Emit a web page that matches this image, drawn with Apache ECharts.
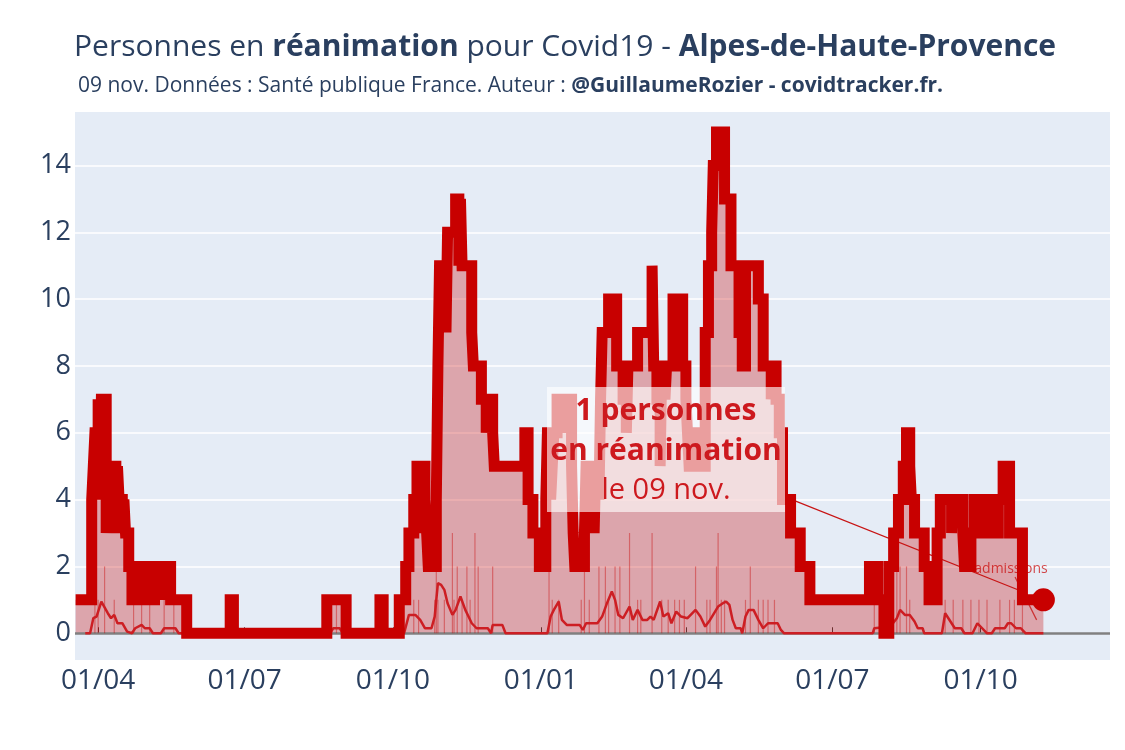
<!DOCTYPE html>
<html>
<head>
<meta charset="utf-8">
<script src="https://cdn.jsdelivr.net/npm/echarts@6/dist/echarts.min.js"></script>
<style>
html,body{margin:0;padding:0;background:#fff;}
#chart{width:1125px;height:750px;}
</style>
</head>
<body>
<div id="chart"></div>
<script>
// ICU patients (value holds from the date until the next date)
const icuDates = [
'2020-03-18','2020-03-28','2020-03-29','2020-03-30','2020-04-01','2020-04-02','2020-04-03','2020-04-06','2020-04-07','2020-04-09',
'2020-04-10','2020-04-12','2020-04-13','2020-04-14','2020-04-16','2020-04-17','2020-04-18','2020-04-20','2020-04-22','2020-04-24',
'2020-04-26','2020-04-27','2020-04-30','2020-05-02','2020-05-04','2020-05-06','2020-05-09','2020-05-10','2020-05-13','2020-05-14',
'2020-05-16','2020-05-26','2020-06-22','2020-06-24','2020-08-21','2020-09-02','2020-09-23','2020-09-25',
'2020-10-05','2020-10-09','2020-10-11','2020-10-14','2020-10-16','2020-10-18','2020-10-19','2020-10-21','2020-10-22','2020-10-23',
'2020-10-28','2020-10-29','2020-10-30','2020-11-03','2020-11-04','2020-11-09','2020-11-11','2020-11-12','2020-11-13','2020-11-19',
'2020-11-20','2020-11-25','2020-11-28','2020-11-29','2020-12-02','2020-12-03','2020-12-22','2020-12-24','2020-12-27','2020-12-31',
'2021-01-04','2021-01-05','2021-01-07','2021-01-08','2021-01-09','2021-01-11','2021-01-13','2021-01-14','2021-01-17','2021-01-18',
'2021-01-20','2021-01-21','2021-01-22','2021-01-28','2021-01-29','2021-01-31','2021-02-01','2021-02-03','2021-02-04','2021-02-06',
'2021-02-07','2021-02-08','2021-02-12','2021-02-17','2021-02-21','2021-02-23','2021-02-24','2021-03-02','2021-03-11','2021-03-12',
'2021-03-14','2021-03-16','2021-03-17','2021-03-19','2021-03-20','2021-03-24','2021-03-30','2021-04-01','2021-04-02','2021-04-03',
'2021-04-05','2021-04-07','2021-04-09','2021-04-11','2021-04-13','2021-04-15','2021-04-17','2021-04-18','2021-04-20','2021-04-25',
'2021-04-29','2021-05-04','2021-05-06','2021-05-08','2021-05-16','2021-05-19','2021-05-24','2021-05-25','2021-05-27','2021-05-29',
'2021-05-31','2021-06-05','2021-06-11','2021-06-17','2021-07-24','2021-07-29','2021-08-02','2021-08-05','2021-08-08','2021-08-11',
'2021-08-14','2021-08-16','2021-08-18','2021-08-19','2021-08-21','2021-08-27','2021-08-30','2021-09-04','2021-09-06','2021-09-13',
'2021-09-14','2021-09-20','2021-09-21','2021-09-25','2021-09-27','2021-10-02','2021-10-04','2021-10-06','2021-10-08','2021-10-10',
'2021-10-12','2021-10-15','2021-10-19','2021-10-27','2021-11-09'
];
const icuValues = [
1,4,5,6,7,4,7,3,5,3,
5,3,5,4,3,4,3,2,1,2,
1,2,1,2,1,2,1,2,1,2,
1,0,1,0,1,0,1,0,
1,2,3,4,5,3,5,4,3,2,
4,8,11,9,12,13,11,13,11,9,
8,7,6,7,6,5,6,4,3,2,
4,6,4,5,6,7,6,7,6,7,
5,3,2,3,5,3,4,3,5,4,
7,9,10,8,7,6,8,9,11,8,
7,5,8,7,8,10,8,7,6,5,
6,5,6,5,9,11,12,14,15,13,
11,9,8,11,10,8,7,8,7,6,
4,3,2,1,2,1,0,2,3,4,
5,6,5,4,3,2,1,3,4,3,
4,3,2,3,4,3,4,3,4,3,
4,5,3,1,1
];

// Daily ICU admissions (thin bars)
const admDailyDates = [
'2020-03-30','2020-04-01','2020-04-05','2020-04-11','2020-04-23','2020-04-28','2020-05-03','2020-05-12','2020-05-18','2020-08-27',
'2020-10-14','2020-10-17','2020-10-27','2020-10-28','2020-10-29','2020-11-02','2020-11-07','2020-11-08','2020-11-10','2020-11-13',
'2020-11-16','2020-11-18','2020-11-21','2020-11-23','2020-12-02','2021-01-06','2021-01-08','2021-01-12','2021-01-26','2021-01-28',
'2021-01-31','2021-02-06','2021-02-10','2021-02-12','2021-02-16','2021-02-19','2021-02-25','2021-03-02','2021-03-04','2021-03-11',
'2021-03-17','2021-03-21','2021-03-25','2021-03-28','2021-03-31','2021-04-07','2021-04-14','2021-04-16','2021-04-20','2021-04-21',
'2021-04-23','2021-04-25','2021-05-08','2021-05-11','2021-05-16','2021-05-19','2021-05-22','2021-05-26','2021-07-27','2021-07-31',
'2021-08-10','2021-08-12','2021-08-16','2021-08-18','2021-09-09','2021-09-14','2021-09-20','2021-09-25','2021-09-30','2021-10-05',
'2021-10-13','2021-10-19','2021-10-22','2021-10-27'
];
const admDailyValues = [
1,1,2,1,1,1,1,1,1,1,
1,1,1,2,1,1,3,1,2,1,
2,1,3,2,2,2,1,1,1,2,
1,2,2,1,2,2,3,1,1,3,
1,1,1,1,1,2,1,1,2,3,
1,1,1,2,1,1,1,1,1,1,
2,2,2,1,1,1,1,1,1,1,
1,1,1,1
];

// Smoothed ICU admissions (thin line)
const admAvgDates = [
'2020-03-24','2020-03-27','2020-03-29','2020-03-31','2020-04-03','2020-04-04','2020-04-07','2020-04-09','2020-04-11','2020-04-13',
'2020-04-16','2020-04-19','2020-04-22','2020-04-24','2020-04-28','2020-04-30','2020-05-03','2020-05-05','2020-05-10','2020-05-12',
'2020-05-19','2020-05-21','2020-08-23','2020-08-25','2020-08-29','2020-08-31','2020-10-08','2020-10-11','2020-10-15','2020-10-18',
'2020-10-21','2020-10-25','2020-10-27','2020-10-29','2020-10-31','2020-11-02','2020-11-04','2020-11-07','2020-11-09','2020-11-12',
'2020-11-15','2020-11-17','2020-11-19','2020-11-22','2020-11-29','2020-12-01','2020-12-02','2020-12-08','2020-12-10','2021-01-05',
'2021-01-07','2021-01-09','2021-01-12','2021-01-14','2021-01-17','2021-01-25','2021-01-27','2021-01-29','2021-02-05','2021-02-08',
'2021-02-11','2021-02-14','2021-02-16','2021-02-18','2021-02-21','2021-02-25','2021-02-27','2021-03-02','2021-03-05','2021-03-08',
'2021-03-10','2021-03-12','2021-03-16','2021-03-18','2021-03-21','2021-03-23','2021-03-26','2021-03-29','2021-04-02','2021-04-07',
'2021-04-10','2021-04-13','2021-04-16','2021-04-21','2021-04-24','2021-04-26','2021-04-28','2021-04-30','2021-05-02','2021-05-05',
'2021-05-06','2021-05-08','2021-05-10','2021-05-13','2021-05-16','2021-05-19','2021-05-22','2021-05-28','2021-05-30','2021-06-01',
'2021-07-26','2021-07-27','2021-08-06','2021-08-10','2021-08-12','2021-08-15','2021-08-18','2021-08-21','2021-08-23','2021-08-26',
'2021-08-27','2021-09-07','2021-09-09','2021-09-11','2021-09-13','2021-09-15','2021-09-19','2021-09-21','2021-09-26','2021-09-29',
'2021-10-02','2021-10-05','2021-10-08','2021-10-10','2021-10-16','2021-10-18','2021-10-20','2021-10-23','2021-10-26','2021-10-29',
'2021-11-09'
];
const admAvgValues = [
0,0,0.45,0.5,0.95,1.0,0.6,0.45,0.55,0.3,
0.3,0.05,0,0.15,0.25,0.15,0.15,0,0,0.15,
0.15,0,0,0.15,0.15,0,0,0.55,0.55,0.4,
0.15,0.15,0.5,1.5,1.45,1.3,0.9,0.55,0.7,1.1,
0.7,0.5,0.3,0.15,0.15,0,0.25,0.25,0,0,
0.5,0.7,0.95,0.4,0.25,0.25,0.1,0.3,0.3,0.5,
0.9,1.25,1.0,0.55,0.45,0.8,0.4,0.7,0.4,0.4,
0.5,0.4,0.95,0.5,0.6,0.3,0.65,0.5,0.45,0.7,
0.5,0.2,0.4,0.8,0.9,0.95,0.85,0.4,0.15,0.15,
0,0.5,0.7,0.7,0.4,0.15,0.3,0.3,0.1,0,
0,0.15,0.2,0.45,0.7,0.55,0.55,0.35,0.15,0.15,
0,0,0.6,0.45,0.3,0.15,0.15,0,0,0.3,
0.15,0,0,0.15,0.15,0.3,0.3,0.15,0.15,0,
0
];

const xTickDates = ['2020-04-01','2020-07-01','2020-10-01','2021-01-01','2021-04-01','2021-07-01','2021-10-01'];
const yTicks = [0,2,4,6,8,10,12,14];
const monthsFr = ['janv.','févr.','mars','avr.','mai','juin','juil.','août','sept.','oct.','nov.','déc.'];

const RED = 'rgb(200,0,0)';
const TXT = '#2a3f5f';
const FONT = '"Open Sans", "DejaVu Sans", sans-serif';

const icuData = icuDates.map((d, i) => [d, icuValues[i]]);
const admDaily = admDailyDates.map((d, i) => [d, admDailyValues[i]]);
const admAvg = admAvgDates.map((d, i) => [d, admAvgValues[i]]);
const lastIdx = icuDates.length - 1;
const lastDate = icuDates[lastIdx];
const lastVal = icuValues[lastIdx];
const ld = echarts.time.parse(lastDate);
const lastLabel = String(ld.getDate()).padStart(2, '0') + ' ' + monthsFr[ld.getMonth()];

const chart = echarts.init(document.getElementById('chart'), null, {renderer: 'canvas'});

const option = {
  animation: false,
  backgroundColor: '#ffffff',
  textStyle: {fontFamily: FONT},
  grid: {left: 75, right: 15, top: 112, bottom: 90, show: true, backgroundColor: '#E5ECF6', borderWidth: 0, z: 0},
  xAxis: {
    type: 'time',
    min: '2020-03-18',
    max: '2021-12-20',
    axisLine: {show: false},
    splitLine: {show: false},
    axisTick: {show: true, inside: true, length: 6, lineStyle: {color: '#444', width: 1},
      customValues: xTickDates.map(d => echarts.time.parse(d).getTime())},
    axisLabel: {
      customValues: xTickDates.map(d => echarts.time.parse(d).getTime()),
      formatter: '{dd}/{MM}', color: TXT, fontSize: 28, fontFamily: FONT, margin: 7
    }
  },
  yAxis: {
    type: 'value',
    min: -0.8,
    max: 15.6,
    axisLine: {show: false},
    axisTick: {show: false},
    splitLine: {show: false},
    axisLabel: {customValues: yTicks, color: TXT, fontSize: 27, fontFamily: FONT, margin: 4}
  },
  series: [
    {
      name: 'grid', type: 'line', data: [], z: 1, silent: true,
      markLine: {
        silent: true, symbol: 'none', z: 1, label: {show: false},
        lineStyle: {color: '#ffffff', width: 1.5, type: 'solid'},
        data: yTicks.filter(v => v !== 0).map(v => ({yAxis: v}))
      }
    },
    {
      name: 'area', type: 'line', step: 'end', data: icuData, z: 2, silent: true,
      showSymbol: false, lineStyle: {width: 0},
      areaStyle: {color: 'rgba(200,0,0,0.3)', opacity: 1}
    },
    {
      name: 'zero', type: 'line', data: [], z: 3, silent: true,
      markLine: {
        silent: true, symbol: 'none', z: 3, label: {show: false},
        lineStyle: {color: '#808080', width: 2.5, type: 'solid'},
        data: [{yAxis: 0}]
      }
    },
    {
      name: 'admissions', type: 'bar', data: admDaily, z: 3, barWidth: 1.2,
      itemStyle: {color: 'rgba(200,0,0,0.4)'}, silent: true
    },
    {
      name: 'admissions moy', type: 'line', data: admAvg, z: 4, showSymbol: false, silent: true,
      lineStyle: {color: 'rgb(205,30,35)', width: 2.5}
    },
    {
      name: 'réa', type: 'line', step: 'end', data: icuData, z: 5, showSymbol: false, silent: true,
      lineStyle: {color: RED, width: 11, join: 'miter', miterLimit: 10, cap: 'butt'}
    },
    {
      name: 'last', type: 'scatter', data: [[lastDate, lastVal]], z: 6, symbolSize: 23,
      itemStyle: {color: RED, opacity: 1}, silent: true
    }
  ]
};
chart.setOption(option);

// annotations
const m = chart.convertToPixel({gridIndex: 0}, [lastDate, lastVal]);
const admLast = admAvg[admAvg.length - 1];
const a = chart.convertToPixel({gridIndex: 0}, admLast);

const box = {x: 547, y: 387, w: 238, h: 125};
const bc = [box.x + box.w / 2, box.y + box.h / 2];
let dx = m[0] - bc[0], dy = m[1] - bc[1];
let len = Math.hypot(dx, dy); let ux = dx / len, uy = dy / len;
const t = (box.x + box.w - bc[0]) / ux;
const arrowStart = [bc[0] + ux * t, bc[1] + uy * t];
const arrowEnd = [m[0] - ux * 18, m[1] - uy * 18];

const lab = [1011, 569];
let dx2 = a[0] - lab[0], dy2 = a[1] - lab[1];
let len2 = Math.hypot(dx2, dy2); let vx = dx2 / len2, vy = dy2 / len2;
const a2Start = [lab[0] + vx * 9, lab[1] + vy * 9];
const a2End = [a[0] - vx * 15, a[1] - vy * 15];

chart.setOption({
  graphic: [
    {type: 'text', x: 74, y: 47, z: 10, style: {
      text: '{n|Personnes en }{b|réanimation}{n| pour Covid19 - }{b|Alpes-de-Haute-Provence}',
      verticalAlign: 'middle', align: 'left',
      rich: {
        n: {fontSize: 30, fontFamily: FONT, fill: TXT},
        b: {fontSize: 30, fontFamily: FONT, fontWeight: 'bold', fill: TXT}
      }
    }},
    {type: 'text', x: 78, y: 86, z: 10, style: {
      text: '{n|' + lastLabel + ' Données : Santé publique France. Auteur : }{b|@GuillaumeRozier - covidtracker.fr.}',
      verticalAlign: 'middle', align: 'left',
      rich: {
        n: {fontSize: 21, fontFamily: FONT, fill: TXT},
        b: {fontSize: 21, fontFamily: FONT, fontWeight: 'bold', fill: TXT}
      }
    }},
    {type: 'line', z: 3, shape: {x1: arrowStart[0], y1: arrowStart[1], x2: arrowEnd[0], y2: arrowEnd[1]},
      style: {stroke: 'rgb(200,20,20)', lineWidth: 1.2}},
    {type: 'text', x: lab[0], y: lab[1], z: 3, style: {
      text: 'admissions', fontSize: 14, fontFamily: FONT, fill: 'rgba(200,0,0,0.7)',
      align: 'center', verticalAlign: 'middle'}},
    {type: 'line', z: 3, shape: {x1: a2Start[0], y1: a2Start[1], x2: a2End[0], y2: a2End[1]},
      style: {stroke: 'rgba(200,20,20,0.8)', lineWidth: 1.2}},
    {type: 'rect', z: 20, shape: {x: box.x, y: box.y, width: box.w, height: box.h},
      style: {fill: 'rgba(255,255,255,0.62)'}},
    {type: 'text', x: bc[0], y: 411, z: 21, style: {
      text: lastVal + ' personnes', fontSize: 30, fontWeight: 'bold', fontFamily: FONT,
      fill: 'rgb(205,25,30)', align: 'center', verticalAlign: 'middle'}},
    {type: 'text', x: bc[0], y: 451, z: 21, style: {
      text: 'en réanimation', fontSize: 30, fontWeight: 'bold', fontFamily: FONT,
      fill: 'rgb(205,25,30)', align: 'center', verticalAlign: 'middle'}},
    {type: 'text', x: bc[0], y: 491, z: 21, style: {
      text: 'le ' + lastLabel, fontSize: 29, fontFamily: FONT,
      fill: 'rgb(205,25,30)', align: 'center', verticalAlign: 'middle'}}
  ]
});
</script>
</body>
</html>
